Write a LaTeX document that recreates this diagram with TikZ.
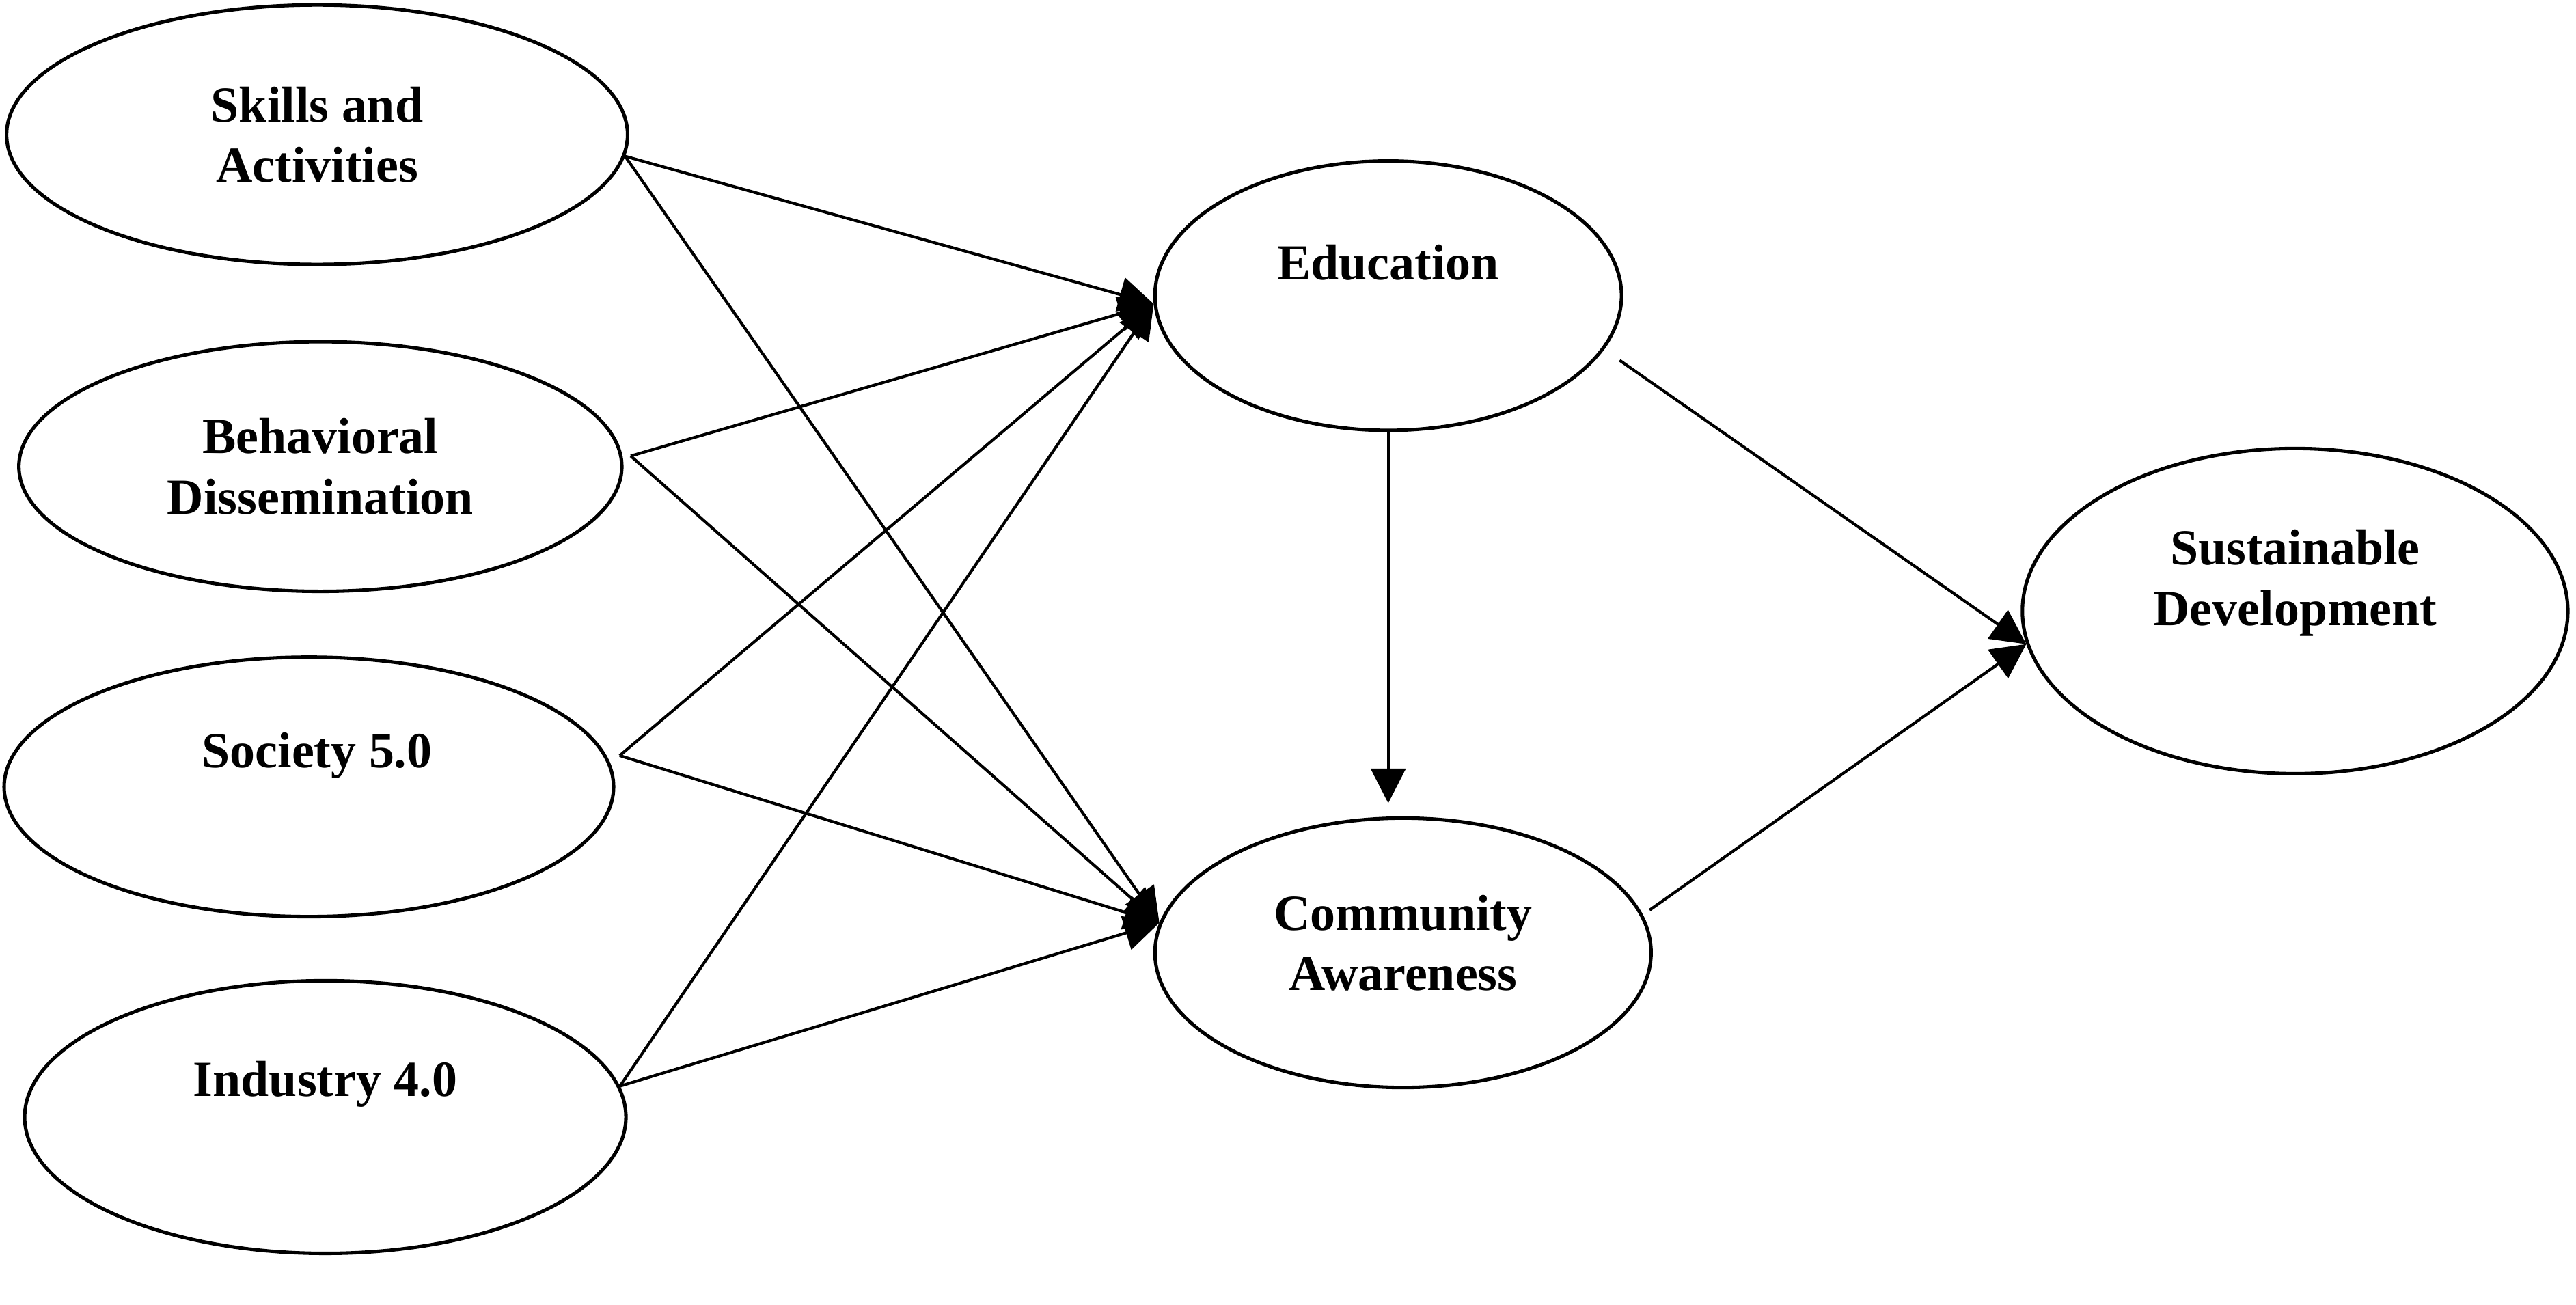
\documentclass[tikz,border=0pt]{standalone}
\usepackage{fontspec}
\setmainfont{Liberation Serif}
\usetikzlibrary{arrows.meta, shapes.geometric}

\begin{document}
\begin{tikzpicture}[
    var/.style={draw, ellipse, line width=1.2pt, inner sep=0pt},
    lbl/.style={font=\fontsize{17.5}{21}\selectfont\bfseries, align=center, inner sep=0pt},
    link/.style={-{Triangle[length=12pt, width=12pt]}, line width=1pt}
]
\useasboundingbox (0,0) rectangle (31.36,15.88);

% === Left column: drivers ===
\node[var, minimum width=7.56cm, minimum height=3.16cm] (sa) at (3.86, 14.24) {};
\node[lbl] (sa-t) at (sa.center) {Skills and\\Activities};

\node[var, minimum width=7.34cm, minimum height=3.04cm] (bd) at (3.90, 10.20) {};
\node[lbl] (bd-t) at (bd.center) {Behavioral\\Dissemination};

\node[var, minimum width=7.42cm, minimum height=3.16cm] (s5) at (3.76, 6.30) {};
\node[lbl] (s5-t) at ([xshift=1mm, yshift=3.8mm]s5.center) {Society 5.0};

\node[var, minimum width=7.32cm, minimum height=3.32cm] (i4) at (3.96, 2.28) {};
\node[lbl] (i4-t) at ([yshift=4mm]i4.center) {Industry 4.0};

% start points just off the border
\coordinate (bd-o) at ([xshift=1mm]bd.2);
\coordinate (s5-o) at ([xshift=1.6mm]s5.6);

% === Middle column: mediators ===
\node[var, minimum width=5.68cm, minimum height=3.28cm] (edu) at (16.90, 12.28) {};
\node[lbl] (edu-t) at ([yshift=4mm]edu.center) {Education};

\node[var, minimum width=6.04cm, minimum height=3.28cm] (com) at (17.08, 4.28) {};
\node[lbl] (com-t) at ([yshift=1.2mm]com.center) {Community\\Awareness};

% === Right: outcome ===
\node[var, minimum width=6.64cm, minimum height=3.96cm] (sd) at (27.94, 8.44) {};
\node[lbl] (sd-t) at ([yshift=3.4mm]sd.center) {Sustainable\\Development};

% Paths into Education and Community Awareness
\draw[link] (sa.-4) -- (edu.182);
\draw[link] (sa.-4) -- (com.173);
\draw[link] (bd-o) -- (edu.182);
\draw[link] (bd-o) -- (com.173);
\draw[link] (s5-o) -- (edu.182);
\draw[link] (s5-o) -- (com.173);
\draw[link] (i4.6) -- (edu.182);
\draw[link] (i4.6) -- (com.173);

% Education -> Community Awareness
\draw[link, shorten >=1.6mm] (edu.south) -- (edu.south |- com.north);

% Paths into Sustainable Development
\draw[link, shorten <=2.3mm] (edu.-14) -- (sd.187);
\draw[link, shorten <=1mm] (com.9) -- (sd.187);

\end{tikzpicture}
\end{document}
